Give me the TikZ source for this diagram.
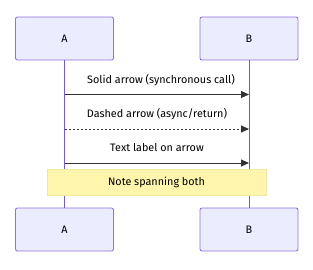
\documentclass[tikz,border=0pt]{standalone}
\usepackage{fontspec}
\setmainfont{Fira Sans}
\usetikzlibrary{arrows.meta}
\definecolor{actfill}{HTML}{ECECFF}
\definecolor{actdraw}{HTML}{9370DB}
\definecolor{lifeln}{RGB}{115,85,235}
\definecolor{notefill}{HTML}{FFF5AD}
\definecolor{notedraw}{HTML}{EEE8A0}
\definecolor{msgcol}{HTML}{333333}
\begin{document}
\begin{tikzpicture}[x=1pt,y=-1pt,
  actor/.style={draw=actdraw,fill=actfill,line width=0.9pt,rounded corners=2pt,minimum width=98pt,minimum height=43pt,inner sep=0pt,font=\fontsize{10.8}{12}\selectfont},
  msg/.style={draw=msgcol,line width=1pt,-{Triangle[length=8pt,width=7pt]}},
  msglabel/.style={font=\fontsize{10.8}{12}\selectfont,text=black,inner sep=0pt},
  life/.style={draw=lifeln,line width=1pt}]
\useasboundingbox (0,0) rectangle (313,270);
\node[actor] (at) at (64.5,38.5) {A};
\node[actor] (bt) at (249,38.5) {B};
\node[actor] (ab) at (64.5,229.5) {A};
\node[actor] (bb) at (249,229.5) {B};
\draw[life] (at.south) -- (ab.north);
\draw[life] (bt.south) -- (bb.north);
\coordinate (a1) at (64.5,94.5); \coordinate (b1) at (249,94.5);
\coordinate (a2) at (64.5,129); \coordinate (b2) at (249,129);
\coordinate (a3) at (64.5,163); \coordinate (b3) at (249,163);
\draw[msg] (a1) -- (b1);
\draw[msg,dash pattern=on 2pt off 2pt] (a2) -- (b2);
\draw[msg] (a3) -- (b3);
\node[msglabel] (l1) at (161,80) {Solid arrow (synchronous call)};
\node[msglabel] (l2) at (157,114) {Dashed arrow (async/return)};
\node[msglabel] (l3) at (157,148) {Text label on arrow};
\node[draw=notedraw,fill=notefill,line width=0.9pt,minimum width=219pt,minimum height=26pt,inner sep=0pt,font=\fontsize{10.8}{12}\selectfont] (note) at (156.5,182) {Note spanning both};
\end{tikzpicture}
\end{document}
